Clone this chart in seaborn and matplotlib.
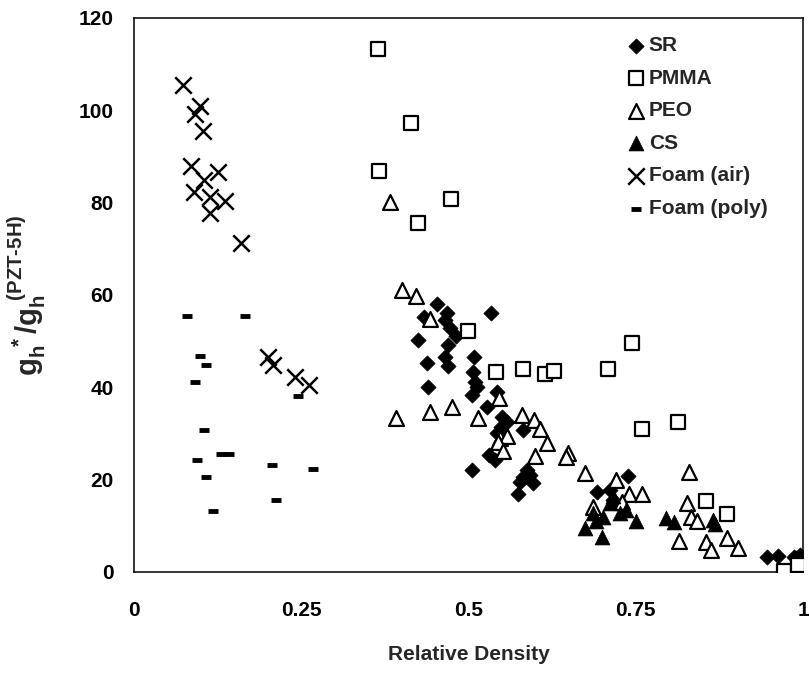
import pandas as pd
import matplotlib
matplotlib.use("Agg")
import matplotlib.pyplot as plt
import seaborn as sns

# SR (filled diamonds)
sr_x = [0.453, 0.468, 0.533, 0.433, 0.465, 0.472, 0.481, 0.425, 0.469, 0.508,
        0.465, 0.470, 0.438, 0.507, 0.510, 0.505, 0.440, 0.528, 0.550, 0.557,
        0.582, 0.542, 0.530, 0.540, 0.505, 0.587, 0.582, 0.596, 0.577, 0.574,
        0.692, 0.739, 0.711, 0.716, 0.946, 0.963, 0.986, 0.996, 0.990, 0.543,
        0.512, 0.548, 0.592]
sr_y = [58.0, 56.2, 56.0, 55.2, 54.6, 52.8, 51.1, 50.2, 49.2, 46.5,
        46.5, 44.7, 45.3, 43.4, 41.2, 38.3, 40.0, 35.8, 33.6, 32.4,
        30.8, 30.2, 25.3, 24.3, 22.1, 22.1, 20.6, 19.2, 19.6, 16.9,
        17.4, 20.9, 17.8, 15.6, 3.2, 3.5, 3.3, 3.7, 3.0, 39.0,
        40.0, 31.5, 21.0]

# PMMA (open squares)
pmma_x = [0.365, 0.414, 0.366, 0.474, 0.425, 0.499, 0.541, 0.582, 0.614, 0.628,
          0.745, 0.708, 0.759, 0.813, 0.855, 0.887, 0.972, 0.992]
pmma_y = [113.2, 97.3, 86.9, 80.8, 75.7, 52.1, 43.3, 43.9, 42.9, 43.5,
          49.5, 44.0, 31.0, 32.5, 15.3, 12.5, 0.3, 1.5]

# PEO (open triangles)
peo_x = [0.382, 0.400, 0.421, 0.443, 0.546, 0.476, 0.443, 0.392, 0.514, 0.580,
         0.598, 0.607, 0.617, 0.547, 0.558, 0.544, 0.552, 0.599, 0.649, 0.645,
         0.674, 0.686, 0.720, 0.740, 0.760, 0.729, 0.830, 0.826, 0.833, 0.842,
         0.814, 0.855, 0.862, 0.886, 0.903]
peo_y = [80.2, 61.1, 59.8, 54.7, 37.6, 35.8, 34.7, 33.4, 33.4, 33.9,
         32.9, 30.9, 28.0, 29.0, 29.5, 28.2, 26.1, 25.1, 25.8, 25.0,
         21.5, 14.0, 19.9, 17.0, 17.0, 15.2, 21.7, 14.9, 12.0, 11.1,
         6.8, 6.6, 4.8, 7.3, 5.1]

# CS (filled triangles)
cs_x = [0.686, 0.674, 0.699, 0.701, 0.726, 0.736, 0.751, 0.795, 0.807, 0.865,
        0.868, 0.711, 0.716, 0.690]
cs_y = [12.7, 9.5, 7.6, 12.0, 12.7, 13.4, 11.0, 11.6, 10.9, 11.3,
        10.5, 14.9, 16.5, 11.0]

# Foam (air) (crosses)
air_x = [0.073, 0.099, 0.091, 0.103, 0.085, 0.126, 0.104, 0.089, 0.113, 0.136,
         0.113, 0.160, 0.201, 0.208, 0.240, 0.262]
air_y = [105.5, 101.0, 99.3, 95.5, 87.9, 86.7, 84.9, 82.4, 81.3, 80.4,
         77.7, 71.2, 46.6, 44.8, 42.3, 40.5]

# Foam (poly) (dashes)
poly_x = [0.079, 0.166, 0.098, 0.108, 0.091, 0.245, 0.105, 0.130, 0.142, 0.094,
          0.206, 0.267, 0.107, 0.213, 0.118]
poly_y = [55.5, 55.5, 46.8, 44.8, 41.1, 38.1, 30.8, 25.6, 25.6, 24.3,
          23.1, 22.4, 20.6, 15.6, 13.2]

groups = ["SR", "PMMA", "PEO", "CS", "Foam (air)", "Foam (poly)"]
xs = [sr_x, pmma_x, peo_x, cs_x, air_x, poly_x]
ys = [sr_y, pmma_y, peo_y, cs_y, air_y, poly_y]

df = pd.concat([pd.DataFrame({"density": x, "ratio": y, "material": g})
                for g, x, y in zip(groups, xs, ys)], ignore_index=True)

sns.set_style("white")
plt.rcParams["font.family"] = ["Liberation Sans", "DejaVu Sans"]
plt.rcParams["font.weight"] = "bold"
plt.rcParams["mathtext.fontset"] = "custom"
plt.rcParams["mathtext.bf"] = "Liberation Sans:bold"
plt.rcParams["mathtext.rm"] = "Liberation Sans:bold"

fig = plt.figure(figsize=(8.09, 6.79), dpi=100)
ax = fig.add_axes([0.1656, 0.1576, 0.827, 0.8159])

styles = {
    "SR": dict(marker="D", s=60, color="black", edgecolor="black", linewidth=0.5),
    "PMMA": dict(marker="s", s=90, facecolor="white", edgecolor="black", linewidth=1.6),
    "PEO": dict(marker="^", s=115, facecolor="white", edgecolor="black", linewidth=1.6),
    "CS": dict(marker="^", s=115, color="black", edgecolor="black", linewidth=0.5),
    "Foam (air)": dict(marker="x", s=140, color="black", linewidth=1.8),
    "Foam (poly)": dict(marker="_", s=50, color="black", linewidth=3.5),
}

for g in groups:
    sns.scatterplot(data=df[df["material"] == g], x="density", y="ratio",
                    ax=ax, label=g, zorder=3, **styles[g])

ax.set_xlim(0, 1)
ax.set_ylim(0, 120)
ax.set_xticks([0, 0.25, 0.5, 0.75, 1])
ax.set_xticklabels(["0", "0.25", "0.5", "0.75", "1"])
ax.set_yticks(range(0, 121, 20))
ax.tick_params(axis="both", direction="out", length=5.8, width=1.0,
               labelsize=15, colors="black")
ax.tick_params(axis="x", pad=15)
ax.tick_params(axis="y", pad=9)
for lab in ax.get_xticklabels() + ax.get_yticklabels():
    lab.set_fontweight("bold")

for side in ["left", "bottom", "top", "right"]:
    ax.spines[side].set_color("black")
    ax.spines[side].set_linewidth(1.1)

ax.set_xlabel("Relative Density", fontsize=15, fontweight="bold", labelpad=18)
ax.set_ylabel(r"$\mathbf{g_h^{\ *}/g_h^{\ (PZT\text{-}5H)}}$", fontsize=21)
ax.yaxis.set_label_coords(-0.128, 0.5)

leg = ax.legend(loc="upper left", bbox_to_anchor=(0.726, 0.982),
                borderaxespad=0, frameon=False, handlelength=0.8,
                handletextpad=0.2, labelspacing=0.65, markerscale=1.0,
                prop={"weight": "bold", "size": 15})

fig.savefig("out.png", dpi=100)
